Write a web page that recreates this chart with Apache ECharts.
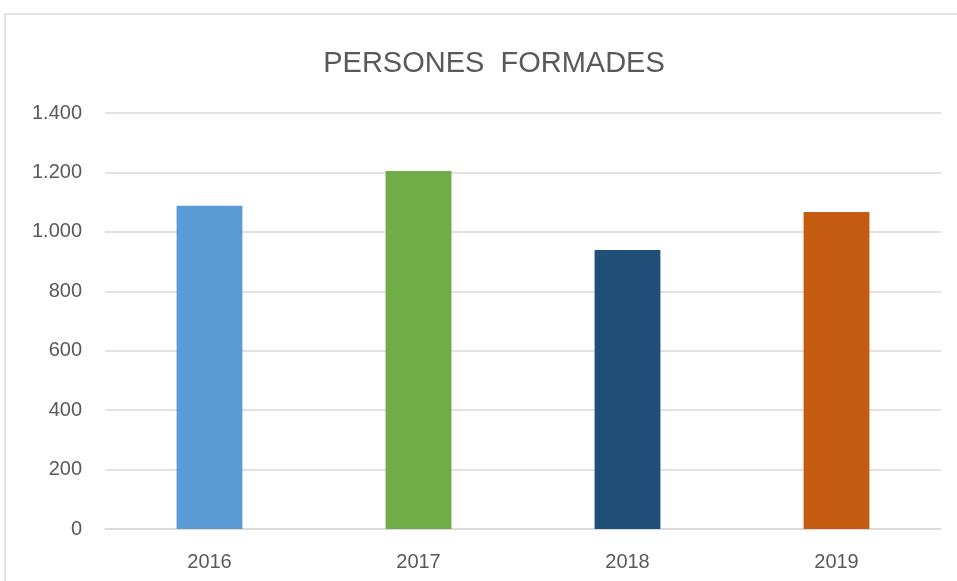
<!DOCTYPE html>
<html>
<head>
<meta charset="utf-8">
<title>Persones formades</title>
<script src="https://cdn.jsdelivr.net/npm/echarts@6/dist/echarts.min.js"></script>
<style>
  html, body { margin: 0; padding: 0; background: #fff; }
  #chart { width: 957px; height: 581px; }
</style>
</head>
<body>
<div id="chart"></div>
<script type="text/javascript">
// dades llegides del gràfic
var anys = ['2016', '2017', '2018', '2019'];
var persones = [1088, 1205, 939, 1067];
var colors = ['#5B9BD5', '#70AD47', '#1F4E79', '#C55A11'];

// separador de milers amb punt (1.400)
function milers(v) {
	return String(v).replace(/\B(?=(\d{3})+(?!\d))/g, '.');
}

var myChart = echarts.init(document.getElementById('chart'));
var option = {
	backgroundColor: '#fff',
	animation: false,
	title: {
		text: 'PERSONES  FORMADES',
		left: 489,
		top: 44,
		textAlign: 'center',
		textStyle: {
			fontFamily: 'Liberation Sans',
			fontSize: 29,
			fontWeight: 'normal',
			color: '#595959'
		}
	},
	graphic: [
		// marc del gràfic
		{
			type: 'rect',
			shape: { x: 5, y: 14, width: 960, height: 600 },
			style: { fill: 'none', stroke: '#D9D9D9', lineWidth: 1.5 },
			silent: true
		}
	],
	grid: {
		left: 105,
		right: 16,
		top: 113,
		bottom: 52
	},
	xAxis: {
		type: 'category',
		data: anys,
		axisLine: { lineStyle: { color: '#D9D9D9', width: 1.5 } },
		axisTick: { show: false },
		axisLabel: {
			margin: 23,
			fontFamily: 'Liberation Sans',
			fontSize: 20,
			color: '#595959'
		}
	},
	yAxis: {
		type: 'value',
		min: 0,
		max: 1400,
		interval: 200,
		axisLine: { show: false },
		axisTick: { show: false },
		splitLine: { lineStyle: { color: '#D9D9D9', width: 1.5 } },
		axisLabel: {
			margin: 23,
			fontFamily: 'Liberation Sans',
			fontSize: 20,
			color: '#595959',
			formatter: milers
		}
	},
	series: [
		{
			name: 'Persones formades',
			type: 'bar',
			barWidth: '31.5%',
			data: persones.map(function (v, i) {
				return { value: v, itemStyle: { color: colors[i] } };
			})
		}
	]
};
myChart.setOption(option);
</script>
</body>
</html>
